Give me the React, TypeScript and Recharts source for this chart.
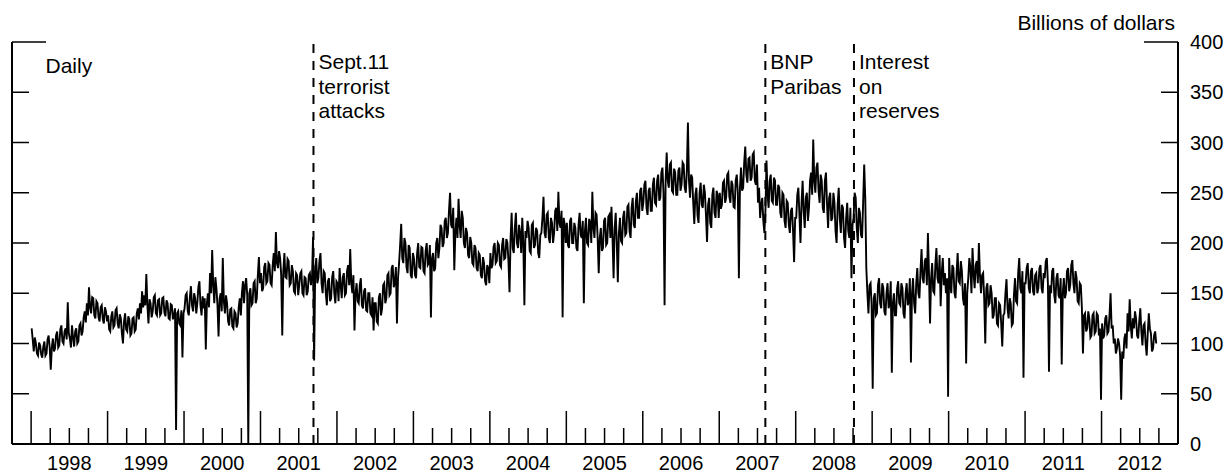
import React from "react";
import { LineChart, Line, XAxis, YAxis, ReferenceLine } from "recharts";

// daily series, ~6 readings per month (72 per year)
const years = [1998, 1999, 2000, 2001, 2002, 2003, 2004, 2005, 2006, 2007, 2008, 2009, 2010, 2011, 2012];

const v1998 = [
  115, 104, 92, 106, 100, 90, 88, 101, 98, 89, 86, 97,
  102, 88, 90, 104, 108, 96, 74, 96, 105, 92, 95, 108,
  112, 96, 98, 114, 118, 102, 100, 112, 115, 104, 141, 110,
  105, 96, 118, 106, 97, 112, 115, 100, 102, 118, 120, 108,
  112, 126, 132, 121, 140, 128, 156, 136, 130, 146, 145, 128,
  125, 142, 140, 126, 122, 136, 138, 124, 120, 136, 132, 122,
];
const v1999 = [
  128, 114, 112, 127, 132, 116, 118, 133, 135, 120, 115, 129,
  125, 110, 100, 122, 130, 114, 112, 127, 124, 108, 110, 125,
  126, 112, 114, 130, 135, 124, 140, 130, 152, 136, 148, 138,
  169, 138, 120, 144, 140, 126, 132, 146, 148, 130, 128, 143,
  144, 128, 130, 145, 146, 131, 127, 143, 140, 125, 124, 139,
  138, 124, 128, 135, 14, 130, 132, 120, 118, 133, 86, 130,
];
const v2000 = [
  135, 148, 150, 132, 128, 146, 157, 138, 132, 150, 145, 130,
  140, 156, 162, 138, 128, 147, 135, 145, 94, 140, 150, 136,
  170, 150, 193, 158, 140, 166, 155, 138, 107, 145, 150, 132,
  185, 142, 130, 148, 140, 122, 118, 134, 135, 117, 115, 132,
  130, 116, 120, 136, 145, 128, 150, 162, 140, 158, 165, 148,
  0, 150, 155, 138, 140, 160, 162, 140, 145, 168, 186, 160,
];
const v2001 = [
  170, 152, 155, 176, 180, 160, 162, 180, 178, 160, 158, 178,
  190, 172, 211, 180, 175, 192, 185, 168, 108, 172, 190, 166,
  165, 184, 182, 158, 160, 178, 172, 152, 150, 170, 168, 148,
  158, 170, 172, 150, 148, 166, 165, 148, 152, 168, 170, 158,
  165, 206, 83, 170, 185, 160, 165, 182, 190, 160, 150, 172,
  170, 150, 138, 162, 165, 142, 145, 166, 172, 150, 140, 162,
];
const v2002 = [
  160, 142, 175, 158, 145, 166, 170, 148, 150, 172, 178, 158,
  194, 160, 150, 168, 113, 150, 160, 142, 140, 158, 165, 138,
  135, 152, 155, 133, 132, 150, 150, 130, 128, 146, 113, 140,
  140, 122, 120, 146, 150, 128, 135, 158, 160, 140, 145, 168,
  170, 148, 150, 175, 178, 156, 160, 176, 120, 165, 180, 198,
  219, 185, 180, 205, 200, 176, 170, 198, 195, 168, 165, 190,
];
const v2003 = [
  185, 168, 165, 190, 200, 176, 175, 196, 195, 172, 170, 192,
  200, 178, 180, 198, 126, 185, 190, 172, 175, 200, 205, 185,
  195, 218, 215, 196, 200, 222, 225, 205, 210, 232, 250, 218,
  215, 235, 173, 210, 225, 205, 244, 218, 205, 232, 225, 200,
  195, 215, 210, 188, 185, 206, 200, 180, 178, 198, 195, 175,
  172, 190, 188, 168, 165, 186, 180, 162, 158, 178, 175, 160,
];
const v2004 = [
  190, 175, 178, 196, 200, 180, 182, 200, 198, 178, 176, 198,
  205, 184, 185, 204, 200, 182, 151, 205, 230, 195, 190, 215,
  230, 200, 195, 218, 210, 190, 225, 200, 138, 212, 205, 222,
  215, 192, 190, 218, 220, 195, 198, 215, 212, 190, 185, 208,
  210, 225, 246, 210, 205, 228, 230, 205, 200, 225, 220, 200,
  210, 232, 235, 212, 251, 220, 215, 232, 126, 225, 218, 200,
];
const v2005 = [
  220, 198, 195, 222, 225, 200, 200, 220, 215, 195, 192, 218,
  230, 208, 205, 222, 140, 212, 225, 200, 198, 224, 220, 200,
  251, 215, 205, 230, 228, 205, 170, 205, 215, 192, 195, 222,
  225, 198, 200, 226, 228, 205, 236, 205, 165, 215, 230, 200,
  161, 210, 225, 202, 200, 226, 232, 208, 210, 236, 238, 212,
  205, 235, 245, 218, 215, 242, 250, 225, 225, 252, 255, 232,
];
const v2006 = [
  240, 258, 262, 235, 228, 252, 255, 232, 232, 258, 265, 240,
  238, 262, 268, 242, 245, 270, 275, 250, 138, 262, 290, 262,
  255, 278, 280, 252, 250, 274, 270, 248, 248, 272, 275, 252,
  258, 280, 278, 255, 250, 272, 320, 262, 245, 268, 265, 240,
  219, 248, 255, 228, 220, 250, 260, 238, 235, 258, 250, 228,
  201, 238, 245, 220, 215, 248, 255, 230, 225, 252, 248, 225,
];
const v2007 = [
  250, 234, 238, 260, 262, 240, 245, 268, 270, 246, 240, 262,
  258, 236, 235, 262, 268, 250, 165, 255, 275, 252, 255, 280,
  296, 268, 260, 284, 285, 262, 265, 288, 290, 262, 258, 278,
  240, 255, 225, 238, 245, 222, 210, 232, 282, 248, 235, 262,
  268, 242, 240, 265, 262, 238, 238, 258, 255, 230, 225, 250,
  248, 222, 215, 242, 240, 218, 210, 232, 235, 212, 181, 225,
];
const v2008 = [
  225, 248, 255, 228, 200, 240, 262, 232, 215, 245, 250, 222,
  235, 262, 270, 248, 303, 262, 250, 275, 280, 252, 240, 268,
  262, 235, 230, 262, 270, 238, 215, 245, 250, 222, 225, 250,
  240, 212, 200, 238, 255, 225, 210, 238, 235, 205, 195, 225,
  240, 212, 205, 235, 165, 218, 225, 250, 245, 215, 200, 235,
  230, 208, 205, 240, 278, 245, 175, 150, 130, 158, 160, 138,
];
const v2009 = [
  55, 145, 150, 128, 130, 158, 165, 140, 135, 160, 155, 132,
  128, 150, 160, 135, 140, 162, 71, 140, 150, 128, 128, 155,
  162, 140, 138, 160, 155, 130, 125, 150, 160, 138, 142, 165,
  81, 150, 165, 140, 130, 160, 175, 150, 145, 172, 194, 165,
  160, 182, 185, 158, 210, 170, 120, 165, 180, 152, 150, 178,
  195, 165, 160, 188, 137, 170, 185, 158, 170, 150, 165, 47,
];
const v2010 = [
  185, 160, 150, 178, 175, 150, 145, 170, 190, 162, 160, 182,
  172, 145, 138, 160, 80, 150, 165, 185, 175, 150, 195, 170,
  155, 178, 182, 160, 200, 168, 150, 168, 170, 145, 100, 155,
  160, 138, 140, 158, 150, 125, 128, 145, 145, 120, 118, 140,
  138, 120, 97, 128, 130, 150, 164, 135, 125, 145, 140, 118,
  120, 148, 165, 142, 140, 170, 185, 155, 150, 172, 66, 160,
];
const v2011 = [
  160, 175, 180, 155, 150, 172, 175, 152, 148, 168, 170, 150,
  155, 175, 178, 155, 150, 170, 165, 182, 185, 160, 72, 158,
  150, 172, 175, 148, 140, 165, 170, 148, 145, 165, 79, 150,
  165, 145, 150, 172, 175, 152, 158, 178, 183, 160, 150, 172,
  165, 142, 140, 160, 158, 135, 90, 128, 130, 112, 115, 132,
  125, 106, 108, 128, 130, 110, 112, 130, 128, 108, 115, 44,
];
const v2012 = [
  120, 105, 108, 125, 128, 110, 112, 128, 150, 115, 118, 100,
  105, 90, 95, 105, 100, 88, 44, 92, 85, 105, 110, 95,
  130, 112, 144, 118, 105, 125, 115, 132, 125, 108, 105, 122,
  135, 112, 98, 118, 120, 100, 88, 110, 130, 115, 110, 92,
  95, 108, 112, 100,
];

const yearValues = [v1998, v1999, v2000, v2001, v2002, v2003, v2004, v2005, v2006, v2007, v2008, v2009, v2010, v2011, v2012];
const perYear = 72;

const yTicks = [0, 50, 100, 150, 200, 250, 300, 350, 400];

const events = [
  { t: 2001.693, lines: ["Sept.11", "terrorist", "attacks"] },
  { t: 2007.603, lines: ["BNP", "Paribas"] },
  { t: 2008.762, lines: ["Interest", "on", "reserves"] },
];

const data = years.flatMap((yr, k) =>
  yearValues[k].map((v, i) => ({ t: yr + (i + 0.5) / perYear, v }))
);
const quarterTicks = years.flatMap((yr) => [yr, yr + 0.25, yr + 0.5, yr + 0.75]);
const labelTicks = years.map((yr) => yr + 0.5);

const FONT = '"Liberation Sans", Arial, sans-serif';
const xDomain: [number, number] = [1997.75, 2013];

const QuarterTick = (props: any) => {
  const { x, y, payload } = props;
  const isYear = Math.abs(payload.value - Math.round(payload.value)) < 1e-6;
  return (
    <line x1={x} x2={x} y1={y} y2={y - (isYear ? 33 : 16)} stroke="#000" strokeWidth={1.5} />
  );
};

const RightTick = (props: any) => {
  const { x, y, payload } = props;
  const ax = x - 12;
  const len = payload.value === 400 ? 34 : 17;
  return (
    <g>
      <line x1={ax - len} x2={ax} y1={y} y2={y} stroke="#000" strokeWidth={1.5} />
      <text x={x} y={y} dy="0.35em" fontSize={20} fontFamily={FONT} fill="#000">
        {payload.value}
      </text>
    </g>
  );
};

const LeftTick = (props: any) => {
  const { x, y, payload } = props;
  const len = payload.value === 400 ? 34 : 17;
  return <line x1={x} x2={x + len} y1={y} y2={y} stroke="#000" strokeWidth={1.5} />;
};

const eventLabel = (lines: string[]) => (props: any) => {
  const vb = props.viewBox;
  const lx = vb.x + 5;
  return (
    <text x={lx} y={vb.y + 27} fontSize={21} fontFamily={FONT} fill="#000">
      {lines.map((s, i) => (
        <tspan key={i} x={lx} dy={i === 0 ? 0 : 24.5}>
          {s}
        </tspan>
      ))}
    </text>
  );
};

export default function App() {
  return (
    <div style={{ position: "absolute", left: 0, top: 0, width: 1228, height: 474, background: "#fff" }}>
      <LineChart width={1228} height={474} data={data} margin={{ top: 42, right: 0, bottom: 0, left: 2 }}>
        <XAxis
          dataKey="t"
          type="number"
          domain={xDomain}
          ticks={quarterTicks}
          interval={0}
          height={1}
          tickSize={0}
          tickMargin={0}
          tick={QuarterTick}
          axisLine={{ stroke: "#000", strokeWidth: 2 }}
          tickLine={false}
          allowDataOverflow
        />
        <XAxis
          xAxisId="lab"
          dataKey="t"
          type="number"
          domain={xDomain}
          ticks={labelTicks}
          interval={0}
          height={29}
          tickSize={0}
          tickMargin={11}
          tickFormatter={(v: number) => String(Math.floor(v))}
          tick={{ fontSize: 20, fontFamily: FONT, fill: "#000" }}
          axisLine={false}
          tickLine={false}
          allowDataOverflow
        />
        <YAxis
          yAxisId="l"
          orientation="left"
          width={10}
          dataKey="v"
          type="number"
          domain={[0, 400]}
          allowDataOverflow
          ticks={yTicks}
          interval={0}
          tickSize={0}
          tickMargin={0}
          tick={LeftTick}
          tickLine={false}
          axisLine={{ stroke: "#000", strokeWidth: 2 }}
        />
        <YAxis
          yAxisId="r"
          orientation="right"
          width={50}
          type="number"
          domain={[0, 400]}
          allowDataOverflow
          ticks={yTicks}
          interval={0}
          tickSize={0}
          tickMargin={12}
          tick={RightTick}
          tickLine={false}
          axisLine={{ stroke: "#000", strokeWidth: 2 }}
        />
        {events.map((e) => (
          <ReferenceLine
            key={e.t}
            x={e.t}
            yAxisId="r"
            stroke="#000"
            strokeWidth={2}
            strokeDasharray="9 8"
            label={eventLabel(e.lines)}
          />
        ))}
        <Line
          yAxisId="r"
          dataKey="v"
          type="linear"
          stroke="#000"
          strokeWidth={1.9}
          dot={false}
          isAnimationActive={false}
        />
      </LineChart>
      <svg
        width={1228}
        height={474}
        style={{ position: "absolute", left: 0, top: 0, pointerEvents: "none" }}
      >
        <text x={1175} y={30} textAnchor="end" fontSize={21} fontFamily={FONT} fill="#000">
          Billions of dollars
        </text>
        <text x={45.5} y={73} fontSize={21} fontFamily={FONT} fill="#000">
          Daily
        </text>
      </svg>
    </div>
  );
}
